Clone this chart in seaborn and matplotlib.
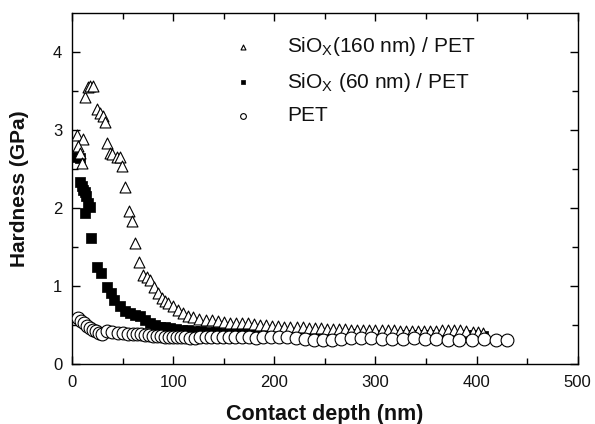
import numpy as np
import pandas as pd
import matplotlib
matplotlib.use('Agg')
import matplotlib.pyplot as plt
import seaborn as sns

# SiOx (160 nm) / PET
tri_depth = [5, 11, 6, 8, 10, 13, 16, 18, 21, 25,
             28, 31, 33, 35, 37.5, 40, 44, 47, 49, 52,
             56, 59, 62, 66, 70, 74, 77, 81, 85, 89,
             92, 95, 100, 105, 110, 115,
             120, 126, 132, 138, 144, 150, 156, 162, 168, 174,
             180, 186, 192, 198, 204, 210, 216, 222, 228, 234,
             240, 246, 252, 258, 264, 270, 276, 282, 288, 294,
             300, 306, 312, 318, 324, 330, 336, 342, 348, 354,
             360, 366, 372, 378, 384, 390, 396, 401, 406]
tri_hard = [2.94, 2.88, 2.79, 2.71, 2.58, 3.43, 3.55, 3.56, 3.56, 3.27,
            3.22, 3.18, 3.10, 2.84, 2.71, 2.69, 2.66, 2.65, 2.54, 2.27,
            1.96, 1.83, 1.55, 1.31, 1.14, 1.12, 1.08, 0.99, 0.91, 0.85,
            0.81, 0.78, 0.74, 0.69, 0.65, 0.62,
            0.60, 0.58, 0.57, 0.56, 0.55, 0.54, 0.53, 0.53, 0.52, 0.52,
            0.51, 0.50, 0.50, 0.49, 0.49, 0.48, 0.48, 0.47, 0.47, 0.46,
            0.46, 0.46, 0.45, 0.45, 0.45, 0.45, 0.44, 0.44, 0.44, 0.44,
            0.43, 0.43, 0.43, 0.43, 0.42, 0.42, 0.42, 0.42, 0.42, 0.42,
            0.42, 0.43, 0.44, 0.44, 0.43, 0.42, 0.41, 0.41, 0.40]

# SiOx (60 nm) / PET
sq_depth = [5, 8, 8, 10, 11, 13, 14, 16, 13, 18,
            18.5, 24.5, 29, 35, 39, 42, 47, 52, 57, 62,
            67, 72, 77, 82, 87, 92, 97, 103, 109, 115,
            121, 128, 135, 142, 150, 158, 166, 174, 182, 190,
            198, 206, 214, 222, 230, 238, 246, 254, 262, 270,
            278, 286, 294, 302, 310, 318, 326, 334, 342, 350,
            358, 366, 374, 382, 390, 398, 406]
sq_hard = [2.66, 2.64, 2.34, 2.28, 2.23, 2.20, 2.15, 2.07, 1.94, 2.02,
           1.61, 1.25, 1.17, 0.99, 0.91, 0.82, 0.74, 0.68, 0.65, 0.63,
           0.61, 0.56, 0.53, 0.50, 0.48, 0.47, 0.46, 0.45, 0.44, 0.43,
           0.42, 0.42, 0.41, 0.41, 0.40, 0.40, 0.40, 0.40, 0.39, 0.39,
           0.39, 0.39, 0.39, 0.38, 0.38, 0.38, 0.38, 0.38, 0.38, 0.38,
           0.38, 0.37, 0.37, 0.37, 0.37, 0.37, 0.37, 0.37, 0.37, 0.37,
           0.37, 0.37, 0.37, 0.37, 0.37, 0.37, 0.36]

# PET
pet_depth = [6, 9, 12, 15, 18, 21, 24, 27, 30,
             35, 40, 45, 50, 55, 60,
             64, 68, 72, 76, 80, 84, 88, 92, 96, 100,
             104, 108, 112, 117, 122, 127, 132, 137, 143, 149,
             155, 161, 168, 175, 182, 189, 197, 205, 213, 221,
             230, 239, 248, 257, 266, 276, 286, 296, 306, 316,
             327, 338, 349, 360, 372, 383, 395, 407, 419, 430]
pet_hard = [0.59, 0.55, 0.52, 0.49, 0.46, 0.44, 0.42, 0.40, 0.39,
            0.42, 0.41, 0.40, 0.40, 0.39, 0.39,
            0.38, 0.38, 0.37, 0.37, 0.36, 0.36, 0.36, 0.35, 0.35, 0.35,
            0.34, 0.34, 0.34, 0.33, 0.33, 0.34, 0.34, 0.34, 0.35, 0.35,
            0.34, 0.34, 0.34, 0.34, 0.33, 0.34, 0.35, 0.35, 0.34, 0.33,
            0.32, 0.31, 0.31, 0.31, 0.32, 0.33, 0.33, 0.33, 0.32, 0.32,
            0.32, 0.33, 0.32, 0.32, 0.31, 0.31, 0.31, 0.32, 0.31, 0.31]

labels = ['SiO$_{X}$(160 nm) / PET', 'SiO$_{X}$ (60 nm) / PET', 'PET']

sns.set_style('ticks')
plt.rcParams['font.family'] = ['Liberation Sans', 'DejaVu Sans']
plt.rcParams['mathtext.default'] = 'regular'
plt.rcParams['text.color'] = '#111111'
plt.rcParams['axes.labelcolor'] = '#111111'
plt.rcParams['xtick.labelcolor'] = '#111111'
plt.rcParams['ytick.labelcolor'] = '#111111'

fig = plt.figure(figsize=(5.95, 4.24), dpi=100)
ax = fig.add_axes([0.121, 0.1415, 0.850, 0.8275])

sns.scatterplot(x=sq_depth, y=sq_hard, marker='s', s=50, color='black',
                edgecolor='black', linewidth=0.5, label=labels[1], ax=ax, zorder=2)
sns.scatterplot(x=tri_depth, y=tri_hard, marker='^', s=62, color='white',
                edgecolor='black', linewidth=0.8, label=labels[0], ax=ax, zorder=3)
sns.scatterplot(x=pet_depth, y=pet_hard, marker='o', s=85, color='white',
                edgecolor='black', linewidth=0.8, label=labels[2], ax=ax, zorder=4)

ax.set_xlim(0, 500)
ax.set_ylim(0, 4.5)
ax.set_xticks([0, 100, 200, 300, 400, 500])
ax.set_xticks(np.arange(50, 500, 100), minor=True)
ax.set_yticks([0, 1, 2, 3, 4])
ax.set_yticks([0.5, 1.5, 2.5, 3.5], minor=True)
ax.tick_params(which='both', direction='in', top=True, right=True,
               labelsize=12, width=1, color='black')
ax.tick_params(axis='x', which='both', pad=8)
ax.tick_params(axis='y', which='both', pad=7)
ax.tick_params(which='major', length=6)
ax.tick_params(which='minor', length=4)
for sp in ax.spines.values():
    sp.set_linewidth(1)
    sp.set_color('black')

ax.set_xlabel('Contact depth (nm)', fontsize=15.5, fontweight='bold', labelpad=10)
ax.set_ylabel('Hardness (GPa)', fontsize=15, fontweight='bold', labelpad=17)

h, l = ax.get_legend_handles_labels()
order = [1, 0, 2]
ax.legend([h[i] for i in order], [l[i] for i in order], loc='upper left',
          bbox_to_anchor=(0.26, 0.99), frameon=False, fontsize=15,
          markerscale=0.45, handletextpad=1.1, labelspacing=0.6)

fig.savefig('out.png', dpi=100)
